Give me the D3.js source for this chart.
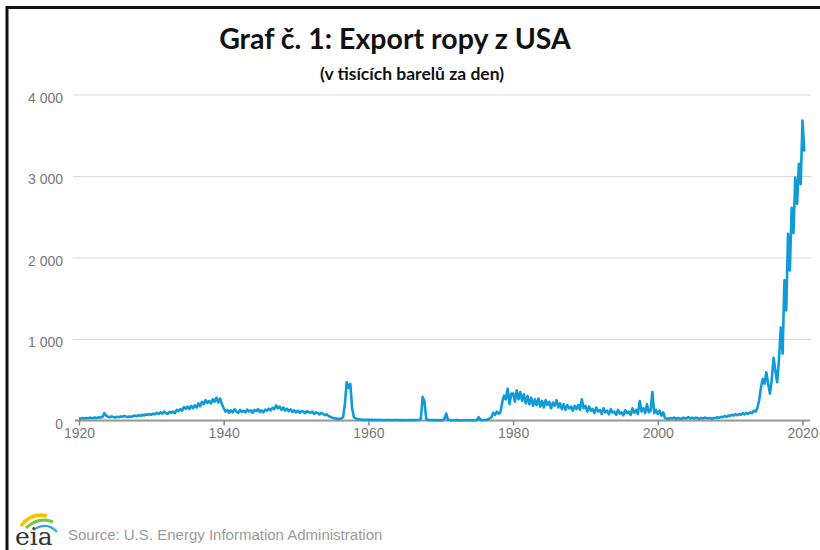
<!DOCTYPE html>
<html>
<head>
<meta charset="utf-8">
<script src="https://cdn.jsdelivr.net/npm/d3@7"></script>
<style>
  body { margin: 0; background: #fff; }
  svg { display: block; }
</style>
</head>
<body>
<div id="chart"></div>
<script>
// quarterly export values (thousand barrels per day), starting 1920 Q1
const exports1920s = [20, 25, 30, 25, 30, 28, 35, 30, 32, 35, 30, 40, 35, 45, 90, 60, 45, 40, 50, 42,
  38, 45, 40, 50, 45, 55, 48, 42, 50, 45, 55, 60, 52, 65, 58, 70, 62, 75, 68, 80]
const exports1930s = [70, 85, 75, 95, 80, 100, 85, 110, 90, 80, 105, 95, 110, 90, 130, 115, 140, 120, 165, 145,
  170, 140, 180, 150, 185, 160, 210, 175, 230, 200, 250, 215, 240, 210, 260, 230, 280, 220, 270, 200]
const exports1940s = [150, 110, 130, 95, 125, 100, 140, 110, 95, 130, 105, 120, 100, 135, 110, 125, 95, 130, 115, 140,
  105, 125, 100, 135, 120, 145, 125, 155, 140, 185, 150, 170, 130, 160, 120, 145, 115, 135, 105, 125]
const exports1950s = [100, 120, 95, 115, 110, 90, 115, 100, 95, 110, 80, 100, 90, 75, 95, 80, 65, 75, 55, 45,
  35, 30, 25, 20, 20, 25, 40, 200, 470, 400, 450, 150, 40, 25, 18, 15, 12, 10, 8, 10]
const exports1960s = [10, 8, 10, 7, 8, 6, 8, 7, 6, 5, 7, 6, 5, 6, 5, 7, 6, 5, 6, 5,
  5, 4, 6, 5, 5, 6, 5, 6, 8, 20, 290, 230, 15, 8, 6, 5, 5, 6, 5, 4]
const exports1970s = [4, 5, 20, 85, 10, 5, 4, 5, 4, 5, 4, 3, 4, 3, 4, 3, 3, 4, 3, 4,
  6, 40, 8, 6, 7, 8, 10, 25, 40, 95, 70, 110, 85, 100, 225, 305, 260, 390, 200, 330]
const exports1980s = [330, 230, 370, 260, 350, 240, 320, 210, 300, 200, 280, 180, 260, 190, 270, 170, 240, 160, 250, 190,
  230, 150, 220, 180, 250, 160, 210, 140, 200, 130, 190, 150, 170, 120, 180, 140, 190, 130, 260, 150]
const exports1990s = [180, 110, 170, 120, 140, 90, 160, 110, 130, 80, 150, 100, 120, 75, 140, 95, 110, 70, 130, 85,
  100, 65, 125, 90, 110, 70, 150, 95, 130, 80, 240, 110, 150, 90, 200, 100, 120, 350, 90, 130]
const exports2000s = [80, 120, 60, 100, 30, 25, 20, 30, 25, 35, 20, 30, 25, 20, 35, 25, 30, 40, 25, 35,
  25, 35, 30, 20, 30, 25, 35, 30, 25, 30, 20, 30, 30, 40, 35, 45, 40, 55, 45, 60]
const exports2010s = [55, 70, 60, 80, 65, 80, 70, 90, 75, 95, 80, 100, 90, 120, 110, 150, 245, 400, 510, 450,
  590, 450, 330, 500, 770, 610, 470, 750, 1140, 820, 1720, 1350, 2290, 1840, 2610, 2300, 2980, 2660, 3150, 2900]
const exports2020 = [3680, 3300]

const xTickYears = [1920, 1940, 1960, 1980, 2000, 2020]
const yTickValues = [0, 1000, 2000, 3000, 4000]
const yTickLabels = ['0', '1 000', '2 000', '3 000', '4 000']

const width = 820
const height = 550

const allValues = [].concat(exports1920s, exports1930s, exports1940s, exports1950s, exports1960s,
  exports1970s, exports1980s, exports1990s, exports2000s, exports2010s, exports2020)
const series = allValues.map((v, i) => ({ year: 1920 + i / 4, value: v }))

const svg = d3.select('#chart')
  .append('svg')
  .attr('width', width)
  .attr('height', height)

// frame (only top and left edges show inside the picture)
svg.append('path')
  .attr('d', 'M7,550 V7.5 H820')
  .attr('fill', 'none')
  .attr('stroke', '#111')
  .attr('stroke-width', 3)

const xScale = d3.scaleLinear().domain([1920, 2020]).range([79, 802.5])
const yScale = d3.scaleLinear().domain([0, 4000]).range([420.5, 94.5])

// gridlines + y labels
const yAxis = d3.axisLeft(yScale)
  .tickValues(yTickValues)
  .tickFormat((d, i) => yTickLabels[i])
  .tickSize(738)
  .tickPadding(10)

const gy = svg.append('g')
  .attr('transform', 'translate(811,0)')
  .call(yAxis)
gy.select('.domain').remove()
gy.selectAll('line').attr('stroke', '#d9d9d9').attr('stroke-width', 1.2)
gy.selectAll('text')
  .attr('fill', '#777')
  .attr('dy', '0.55em')
  .style('font-family', 'Arial, "Liberation Sans", sans-serif')
  .style('font-size', '14px')

// baseline
svg.append('line')
  .attr('x1', 75).attr('x2', 810)
  .attr('y1', yScale(0)).attr('y2', yScale(0))
  .attr('stroke', '#999')
  .attr('stroke-width', 2)

const xAxis = d3.axisBottom(xScale)
  .tickValues(xTickYears)
  .tickFormat(d3.format('d'))
  .tickSizeInner(5)
  .tickSizeOuter(0)
  .tickPadding(3)

const gx = svg.append('g')
  .attr('transform', `translate(0,${yScale(0)})`)
  .call(xAxis)
gx.select('.domain').remove()
gx.selectAll('line').attr('stroke', '#888').attr('stroke-width', 1.5)
gx.selectAll('text')
  .attr('fill', '#777')
  .style('font-family', 'Arial, "Liberation Sans", sans-serif')
  .style('font-size', '14px')

// the line
const line = d3.line()
  .x(d => xScale(d.year))
  .y(d => yScale(d.value))

svg.append('path')
  .datum(series)
  .attr('d', line)
  .attr('fill', 'none')
  .attr('stroke', '#0f9ad8')
  .attr('stroke-width', 2.6)
  .attr('stroke-linejoin', 'round')

// titles
svg.append('text')
  .attr('x', 395)
  .attr('y', 49)
  .attr('text-anchor', 'middle')
  .style('font-family', 'Lato, "Open Sans", sans-serif')
  .style('font-weight', 'bold')
  .style('font-size', '28.5px')
  .attr('fill', '#111')
  .text('Graf č. 1: Export ropy z USA')

svg.append('text')
  .attr('x', 412)
  .attr('y', 80)
  .attr('text-anchor', 'middle')
  .style('font-family', 'Lato, "Open Sans", sans-serif')
  .style('font-weight', 'bold')
  .style('font-size', '17.5px')
  .attr('fill', '#111')
  .text('(v tisících barelů za den)')

// eia logo
const logo = svg.append('g').attr('transform', 'translate(15,509)')
logo.append('path').attr('d', 'M6,17 Q16,3 32,7').attr('fill', 'none').attr('stroke', '#f5c400').attr('stroke-width', 3.5)
logo.append('path').attr('d', 'M11,19 Q24,7 38,13').attr('fill', 'none').attr('stroke', '#7cc242').attr('stroke-width', 3)
logo.append('path').attr('d', 'M18,21 Q32,12 42,23').attr('fill', 'none').attr('stroke', '#29a8e0').attr('stroke-width', 2.2)
logo.append('text')
  .attr('x', 0)
  .attr('y', 36)
  .style('font-family', '"DejaVu Serif", "Liberation Serif", serif')
  .style('font-size', '25px')
  .attr('fill', '#333')
  .text('eia')

svg.append('text')
  .attr('x', 68)
  .attr('y', 540)
  .style('font-family', 'Arial, "Liberation Sans", sans-serif')
  .style('font-size', '15px')
  .attr('fill', '#9a9a9a')
  .text('Source: U.S. Energy Information Administration')
</script>
</body>
</html>
